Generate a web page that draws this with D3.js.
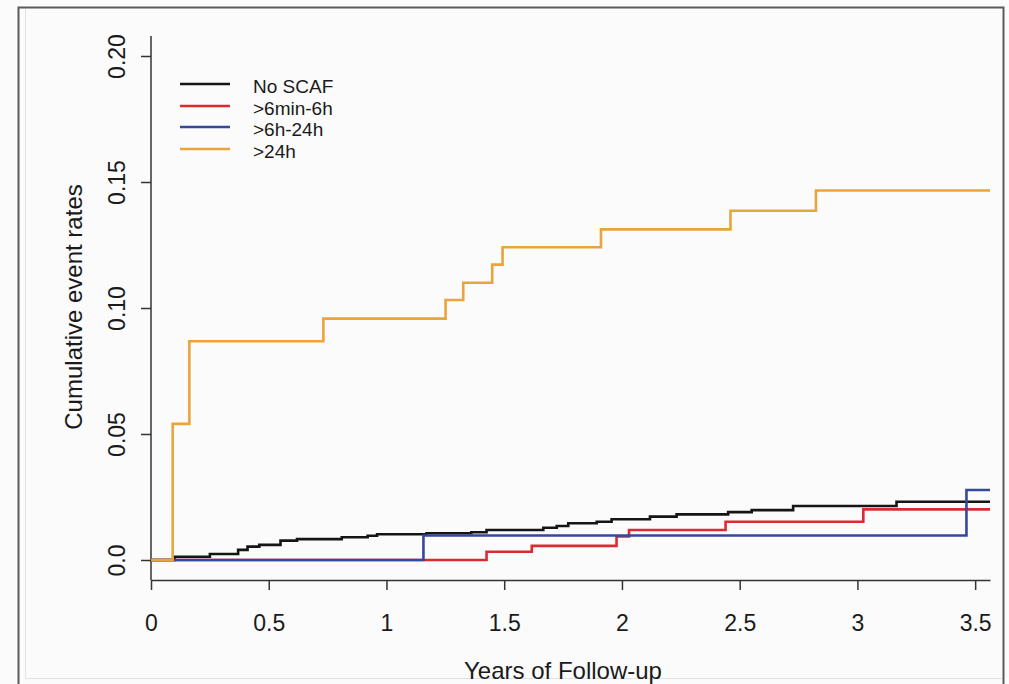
<!DOCTYPE html>
<html>
<head>
<meta charset="utf-8">
<script src="https://cdn.jsdelivr.net/npm/d3@7/dist/d3.min.js"></script>
<style>
  html, body { margin: 0; padding: 0; background: #fbfbfb; }
  svg { display: block; font-family: "Liberation Sans", Arial, Helvetica, sans-serif; }
</style>
</head>
<body>
<svg id="chart" width="1009" height="684"></svg>
<script>
// ---- Data ----
const seriesNames = ["No SCAF", ">6min-6h", ">6h-24h", ">24h"];
const seriesColors = ["#151515", "#dd2a32", "#37479a", "#e9a43c"];

const timesNoScaf = [0, 0.10, 0.25, 0.37, 0.41, 0.46, 0.55, 0.62, 0.81, 0.92, 0.96, 1.17, 1.36, 1.425, 1.666, 1.723, 1.772, 1.893, 1.956, 2.119, 2.232, 2.451, 2.551, 2.727, 3.166, 3.563];
const ratesNoScaf = [0, 0.0013, 0.0024, 0.004, 0.0053, 0.006, 0.0077, 0.0083, 0.009, 0.0096, 0.0102, 0.0106, 0.011, 0.0119, 0.0128, 0.0135, 0.0146, 0.0152, 0.0162, 0.0172, 0.0181, 0.019, 0.0198, 0.0214, 0.0231, 0.0231];

const times6min6h = [0, 1.425, 1.617, 1.977, 2.03, 2.44, 3.025, 3.563];
const rates6min6h = [0, 0.0033, 0.0056, 0.0093, 0.0119, 0.0152, 0.0201, 0.0201];

const times6h24h = [0, 1.157, 3.463, 3.563];
const rates6h24h = [0, 0.0097, 0.0278, 0.0278];

const times24h = [0, 0.092, 0.163, 0.732, 1.251, 1.326, 1.449, 1.493, 1.911, 2.461, 2.824, 3.563];
const rates24h = [0, 0.054, 0.0868, 0.0958, 0.1032, 0.110, 0.1172, 0.1241, 0.1312, 0.1386, 0.1466, 0.1466];

const xTicks = [0, 0.5, 1, 1.5, 2, 2.5, 3, 3.5];
const xTickLabels = ["0", "0.5", "1", "1.5", "2", "2.5", "3", "3.5"];
const yTicks = [0, 0.05, 0.10, 0.15, 0.20];
const yTickLabels = ["0.0", "0.05", "0.10", "0.15", "0.20"];

const xTitle = "Years of Follow-up";
const yTitle = "Cumulative event rates";

// ---- Build ----
const svg = d3.select("#chart");

// outer frame
svg.append("rect").attr("x", 18.5).attr("y", 7.5).attr("width", 985).attr("height", 720)
  .attr("fill", "none").attr("stroke", "#5a5a5a").attr("stroke-width", 2);
svg.append("line").attr("x1", 25.5).attr("x2", 25.5).attr("y1", 9).attr("y2", 678)
  .attr("stroke", "#e2e2e2").attr("stroke-width", 1);
svg.append("line").attr("x1", 25.5).attr("x2", 1002).attr("y1", 678.5).attr("y2", 678.5)
  .attr("stroke", "#e2e2e2").attr("stroke-width", 1);

const x = d3.scaleLinear().domain([0, 3.563]).range([151, 990]);
const y = d3.scaleLinear().domain([0, 0.20]).range([560, 56]);
const plotTop = 36, plotBottom = 580;

// x axis
const xAxis = d3.axisBottom(x).tickValues(xTicks).tickSize(10).tickSizeOuter(0)
  .tickFormat((d, i) => xTickLabels[i]);
const gx = svg.append("g").attr("transform", `translate(0,${plotBottom})`).call(xAxis);
gx.select(".domain").attr("stroke", "#333").attr("stroke-width", 1.5);
gx.selectAll(".tick line").attr("stroke", "#333").attr("stroke-width", 1.5);
gx.selectAll(".tick text").attr("font-size", 23).attr("fill", "#1a1a1a")
  .attr("font-family", "Liberation Sans, Arial, sans-serif").attr("y", 0).attr("dy", 0)
  .attr("transform", "translate(0,51)");

// y axis (rotated labels, R style)
const yAxis = d3.axisLeft(y).tickValues(yTicks).tickSize(10).tickSizeOuter(0)
  .tickFormat((d, i) => yTickLabels[i]);
const gy = svg.append("g").attr("transform", "translate(151,0)").call(yAxis);
gy.select(".domain").remove();
gy.selectAll(".tick line").attr("stroke", "#333").attr("stroke-width", 1.5);
gy.selectAll(".tick text").attr("font-size", 23).attr("fill", "#1a1a1a")
  .attr("font-family", "Liberation Sans, Arial, sans-serif")
  .attr("x", 0).attr("dy", 0)
  .attr("text-anchor", "middle")
  .attr("transform", "translate(-26,0) rotate(-90)");
svg.append("line").attr("x1", 151).attr("x2", 151).attr("y1", plotTop).attr("y2", plotBottom)
  .attr("stroke", "#333").attr("stroke-width", 1.5);

// titles
svg.append("text").attr("x", 563).attr("y", 679).attr("text-anchor", "middle")
  .attr("font-size", 24).attr("fill", "#1a1a1a").text(xTitle);
svg.append("text").attr("transform", "translate(82,307) rotate(-90)").attr("text-anchor", "middle")
  .attr("font-size", 24).attr("fill", "#1a1a1a").text(yTitle);

// step lines
const series = [
  { times: timesNoScaf, rates: ratesNoScaf },
  { times: times6min6h, rates: rates6min6h },
  { times: times6h24h, rates: rates6h24h },
  { times: times24h, rates: rates24h }
];
const line = d3.line().x(d => x(d[0])).y(d => y(d[1])).curve(d3.curveStepAfter);
series.forEach((s, i) => {
  const pts = s.times.map((t, j) => [t, s.rates[j]]);
  svg.append("path").attr("d", line(pts)).attr("fill", "none")
    .attr("stroke", seriesColors[i]).attr("stroke-width", 2.6)
    .attr("stroke-linejoin", "miter").attr("stroke-linecap", "butt");
});

// legend
const legendY = [84, 106, 127, 149];
seriesNames.forEach((name, i) => {
  svg.append("line").attr("x1", 180).attr("x2", 230).attr("y1", legendY[i]).attr("y2", legendY[i])
    .attr("stroke", seriesColors[i]).attr("stroke-width", 2.6);
  svg.append("text").attr("x", 253).attr("y", legendY[i] + 9).attr("font-size", 19)
    .attr("fill", "#1a1a1a").text(name);
});
</script>
</body>
</html>
